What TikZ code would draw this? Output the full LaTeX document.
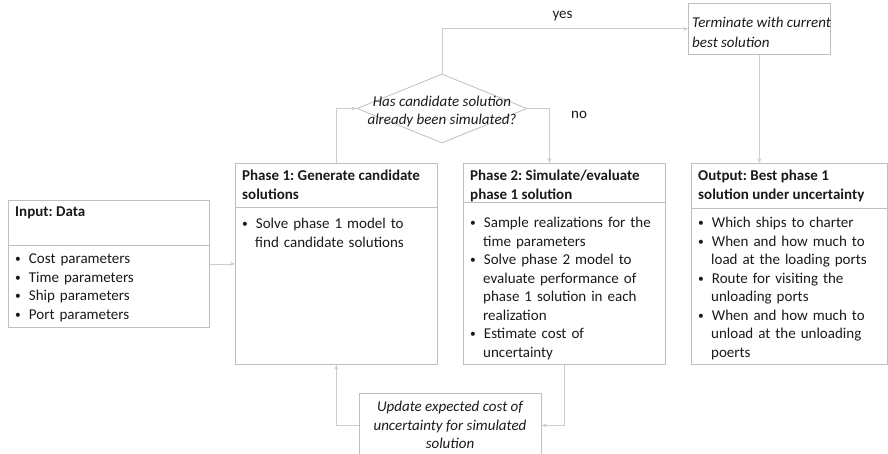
\documentclass[tikz,border=0pt]{standalone}
\usepackage{fontspec}
\setmainfont{Carlito}
\usepackage{enumitem}
\usetikzlibrary{shapes.geometric,arrows.meta}
\definecolor{boxgray}{HTML}{BFBFBF}
\definecolor{lingray}{HTML}{CDCDCD}
\definecolor{txtgray}{HTML}{1A1A1A}
\frenchspacing
\newcommand{\bitems}[1]{\begin{itemize}[label={\raisebox{1pt}{\fontsize{11.5}{11.5}\selectfont\textbullet}},leftmargin=13pt,labelwidth=5pt,labelsep=8pt,align=left,itemsep=0pt,topsep=0pt,parsep=0pt,partopsep=0pt]#1\end{itemize}}
\begin{document}
\begin{tikzpicture}[x=1pt, y=-1pt, font=\fontsize{15}{18.5}\selectfont, text=txtgray]
	\tikzset{box/.style={draw=boxgray, line width=0.8pt, rectangle, inner sep=0, anchor=north west}}
	\tikzset{head/.style={anchor=north west, inner sep=0, align=left, font=\fontsize{15}{18.5}\selectfont\bfseries}}
	\tikzset{list/.style={anchor=north west, inner sep=0}}
	\tikzset{note/.style={inner sep=0, font=\fontsize{15}{18.5}\selectfont\itshape}}
	\tikzset{ar/.style={-{Stealth[length=5pt,width=4pt]}, draw=lingray, line width=0.8pt}}
	\useasboundingbox (0,0) rectangle (888,454);
	\node[box, minimum width=201pt, minimum height=127pt] at (8,200) (input) {};
	\node[box, minimum width=202pt, minimum height=201pt] at (235,163) (phase1) {};
	\node[box, minimum width=202pt, minimum height=201pt] at (463,163) (phase2) {};
	\node[box, minimum width=196pt, minimum height=201pt] at (691,163) (output) {};
	\node[box, minimum width=142pt, minimum height=51pt] at (688,3) (term) {};
	\node[box, minimum width=182pt, minimum height=64pt] at (359,393) (upd) {};
	\node[draw=boxgray, line width=0.8pt, diamond, inner sep=0, minimum width=170pt, minimum height=69pt] at (442,108.5) (dec) {};
	\draw[boxgray, line width=0.8pt] ([yshift=-45pt]input.north west) -- ([yshift=-45pt]input.north east);
	\draw[boxgray, line width=0.8pt] ([yshift=-44pt]phase1.north west) -- ([yshift=-44pt]phase1.north east);
	\draw[boxgray, line width=0.8pt] ([yshift=-39pt]phase2.north west) -- ([yshift=-39pt]phase2.north east);
	\draw[boxgray, line width=0.8pt] ([yshift=-45pt]output.north west) -- ([yshift=-45pt]output.north east);
	\node[head] at (15,207) (inputhd) {Input: Data};
	\node[list, text width=190pt] at (15,245) (inputls) {\bitems{\item Cost parameters \item Time parameters \item Ship parameters \item Port parameters}};
	\node[head] at (242,170) (phase1hd) {Phase 1: Generate candidate\\solutions};
	\node[list, text width=183pt] at (242,210) (phase1ls) {\bitems{\item Solve phase 1 model to find candidate solutions}};
	\node[head] at (470,170) (phase2hd) {Phase 2: Simulate/evaluate\\phase 1 solution};
	\node[list, text width=183pt] at (470,209) (phase2ls) {\bitems{\item Sample realizations for the time parameters \item Solve phase 2 model to evaluate performance of phase 1 solution in each realization \item Estimate cost of uncertainty}};
	\node[head] at (698,170) (outputhd) {Output: Best phase 1\\solution under uncertainty};
	\node[list, text width=183pt] at (698,209) (outputls) {\bitems{\item Which ships to charter \item When and how much to load at the loading ports \item Route for visiting the unloading ports \item When and how much to unload at the unloading poerts}};
	\node[note, anchor=north west, align=left, font=\fontsize{15}{20}\selectfont\itshape] at (692,17) (termtx) {Terminate with current\\best solution};
	\node[note, anchor=north, align=center] at (450,401) (updtx) {Update expected cost of\\uncertainty for simulated\\solution};
	\node[note, align=center] at (442,111.5) (dectx) {Has candidate solution\\already been simulated?};
	\draw[ar] (input.east) -- (input.east -| phase1.west);
	\draw[ar] (phase1.north) |- (dec.west);
	\draw[ar] (dec.north) |- node[pos=0.745, above, inner sep=8pt] (yes) {yes} (term.west);
	\draw[ar] (dec.east) -| node[pos=0.56, anchor=west, xshift=18pt] (no) {no} ([xshift=-15pt]phase2.north);
	\draw[ar] (term.south) -- (term.south |- output.north);
	\draw[ar] (phase2.south) |- (upd.east);
	\draw[ar] (upd.west) -| (phase1.south);
\end{tikzpicture}
\end{document}
